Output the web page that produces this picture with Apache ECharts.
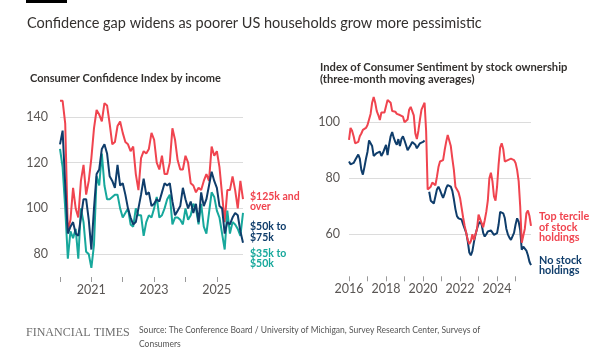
<!DOCTYPE html>
<html><head><meta charset="utf-8">
<script src="https://cdn.jsdelivr.net/npm/echarts@6/dist/echarts.min.js"></script>
<style>html,body{margin:0;padding:0;background:#fff}#c{width:602px;height:361px}</style>
</head><body><div id="c"></div><script>
// ---- Data ----
// Left chart: Consumer Confidence Index by income, monthly Jan 2020 - Nov 2025
const incomeStart = [2020, 1];
const income125kPlus = [147,147,137,90,95,109,100,96,112,119,106,112,122,135,143,141,138,146,145,137,128,129,136,138,133,129,128,125,127,115,108,122,125,124,126,133,130,120,117,123,115,115,120,135,130,121,117,117,123,120,111,110,107,109,108,112,115,112,127,123,125,118,106,94,108,108,114,108,100,112,104];
const income50to75k = [128,134,110,89,92,94,89,88,96,104,104,95,82,100,115,117,126,128,124,114,112,109,119,110,111,106,100,96,93,94,100,106,113,106,107,101,102,104,103,107,111,110,111,103,97,99,101,109,104,100,103,98,102,94,107,101,104,110,116,112,109,101,100,89,94,93,96,98,97,90,85];
const income35to50k = [126,118,100,78,90,87,91,78,100,94,81,80,74,84,114,110,124,110,104,104,105,106,106,100,96,98,100,93,92,100,97,97,88,94,97,96,100,105,96,97,100,104,106,93,96,96,95,93,100,95,97,102,100,93,102,92,89,98,107,105,99,96,89,82,99,89,94,93,91,88,98];
// Right chart: Index of Consumer Sentiment by stock ownership, monthly Jan 2016 - Nov 2025
const stockStart = [2016, 1];
const topTercile = [93.7,98,97,95,92.5,93,93,95,96,97.3,97.5,98,99,101,103,107,109,107,104,102.6,100.8,103.5,103,103.5,103,108,107.8,107,104,103.8,103.8,103,103,102.6,102,102,100,99.5,101,104.5,105.5,105.5,102.5,96,94,97,101,104.5,105,107,97,76,75.8,77,78.5,78,77.5,80.5,84,86,86,86.5,90,93,95.5,95,91.5,87,83,77,76,75,73,69.5,66,63,60.5,58,56.5,57.5,60,58,60,62,67,66.5,64,62.5,65,68,72,80,82,79,73.5,72,77,85,91,92.5,90.5,86,86,86.5,87,87,87,86.5,85.5,83,79,70,57,57.5,62,67.5,68.5,66.5,63];
const noStock = [86,85,85,85.5,86.5,87.5,88.5,87,83,81.3,84,87,89.5,93.5,92.5,91.5,88,88.5,89,88.3,89.5,88,89,90.5,91.9,88.3,92,95,96.5,94.5,93,92,94,91.5,94,95,93.5,91.8,90,89.5,91.9,93,93,92,90.7,91,92.5,92.3,93,93.5,null,null,75.2,72,71.3,71,73.5,76,77,75.8,74.3,73,74.5,76.5,77.6,77.6,77,75.5,72.5,69,66.5,65.7,65.1,65.3,63.5,62,60.5,57.5,53.5,52.5,54,57.2,59.8,62,63.7,64.5,63.5,60.5,59.2,60,61,61.5,61.4,61,59.8,59.2,60.4,63.5,68,68.7,67.5,65.8,62,60,58.8,58,58.5,60.5,63.5,65.7,64.5,61.5,54.5,55.6,55.6,54.2,52.5,50.2,49];
const leftTickLabels = ['2021','2023','2025'];
const rightTickLabels = ['2016','2018','2020','2022','2024'];
const leftYLabels = [80,100,120,140];
const rightYLabels = [60,80,100];

function months(start, n){
  const out=[]; let y=start[0], m=start[1];
  for(let i=0;i<n;i++){ out.push(y+'-'+String(m).padStart(2,'0')); m++; if(m>12){m=1;y++;} }
  return out;
}
const leftCats = months(incomeStart, income125kPlus.length);
const rightCats = months(stockStart, topTercile.length);

const RED='#f0444f', NAVY='#0f3d6b', TEAL='#17a89c', GRID='#dcdcdc', AX='#5a5654';
const FONT='Lato';

function gridColors(min,max,step,show){
  const c=[]; for(let v=min; v<=max+1e-9; v+=step){ c.push(show.indexOf(Math.round(v))>=0?GRID:'rgba(0,0,0,0)'); } return c;
}

function xAxis(gridIndex, cats, labels){
  return {type:'category', gridIndex, data:cats, boundaryGap:false,
    axisLine:{show:false},
    axisTick:{show:true, length:5, lineStyle:{color:'#9a9a9a'}, interval:(i,v)=>v.endsWith('-01')},
    axisLabel:{interval:(i,v)=>v.endsWith('-01') && labels.indexOf(v.slice(0,4))>=0,
      formatter:v=>v.slice(0,4), color:AX, fontSize:12.5, fontFamily:FONT, margin:6},
    splitLine:{show:false}};
}
function yAxis(gridIndex,min,max,step,labels,margin){
  return {type:'value', gridIndex, min, max, interval:step,
    axisLine:{show:false}, axisTick:{show:false},
    axisLabel:{formatter:v=>labels.indexOf(v)>=0?String(v):'', color:AX, fontSize:12.5, fontFamily:FONT, margin},
    splitLine:{show:true, lineStyle:{color:gridColors(min,max,step,labels), width:1}}};
}
function line(name, data, color, xi, yi){
  return {name, type:'line', data, xAxisIndex:xi, yAxisIndex:yi, showSymbol:false, symbol:'none',
    connectNulls:false, lineStyle:{color, width:2}, itemStyle:{color}, z:3};
}
function t2(x,y,t,style){ return {type:'text', x, y, style:Object.assign({text:t, fontFamily:FONT, fontSize:11.5, fill:'#33302e', verticalAlign:'middle', align:'left'}, style||{}), z:10}; }

const chart = echarts.init(document.getElementById('c'), null, {renderer:'canvas'});
chart.setOption({
  animation:false,
  backgroundColor:'#fff',
  grid:[
    {left:60, top:94, width:183, height:183, containLabel:false},
    {left:349, top:94.3, width:182, height:182, containLabel:false}
  ],
  xAxis:[xAxis(0,leftCats,leftTickLabels), xAxis(1,rightCats,rightTickLabels)],
  yAxis:[yAxis(0,70,150,10,leftYLabels,12), yAxis(1,45,110,5,rightYLabels,9)],
  series:[
    line('$125k and over', income125kPlus, RED, 0, 0),
    line('$35k to $50k', income35to50k, TEAL, 0, 0),
    line('$50k to $75k', income50to75k, NAVY, 0, 0),
    line('No stock holdings', noStock, NAVY, 1, 1),
    line('Top tercile of stock holdings', topTercile, RED, 1, 1)
  ],
  graphic:[
    {type:'rect', shape:{x:26,y:0,width:41,height:3}, style:{fill:'#000'}},
    t2(27,23,'Confidence gap widens as poorer US households grow more pessimistic',{fontSize:14.5, fill:'#33302e'}),
    t2(30,78,'Consumer Confidence Index by income',{fontSize:11, fontWeight:'bold'}),
    t2(320,67,'Index of Consumer Sentiment by stock ownership',{fontSize:11.2, fontWeight:'bold'}),
    t2(320,79,'(three-month moving averages)',{fontSize:11.2, fontWeight:'bold'}),
    t2(250,197,'$125k and',{fill:RED, fontWeight:'bold', fontSize:10.5}),
    t2(250,207,'over',{fill:RED, fontWeight:'bold', fontSize:10.5}),
    t2(250,227,'$50k to',{fill:NAVY, fontWeight:'bold', fontSize:10.5}),
    t2(250,238,'$75k',{fill:NAVY, fontWeight:'bold', fontSize:10.5}),
    t2(250,254,'$35k to',{fill:TEAL, fontWeight:'bold', fontSize:10.5}),
    t2(250,264,'$50k',{fill:TEAL, fontWeight:'bold', fontSize:10.5}),
    t2(539,217,'Top tercile',{fill:RED, fontWeight:'bold', fontSize:10.8}),
    t2(539,228,'of stock',{fill:RED, fontWeight:'bold', fontSize:10.8}),
    t2(539,238,'holdings',{fill:RED, fontWeight:'bold', fontSize:10.8}),
    t2(539,261,'No stock',{fill:NAVY, fontWeight:'bold', fontSize:10.8}),
    t2(539,271,'holdings',{fill:NAVY, fontWeight:'bold', fontSize:10.8}),
    t2(26,333,'FINANCIAL TIMES',{fontFamily:'Liberation Serif', fontSize:12, fill:'#6e6e6e'}),
    t2(139,330,'Source: The Conference Board / University of Michigan, Survey Research Center, Surveys of',{fontSize:8.5, fill:'#555'}),
    t2(139,344,'Consumers',{fontSize:8.5, fill:'#555'})
  ]
});
</script></body></html>
